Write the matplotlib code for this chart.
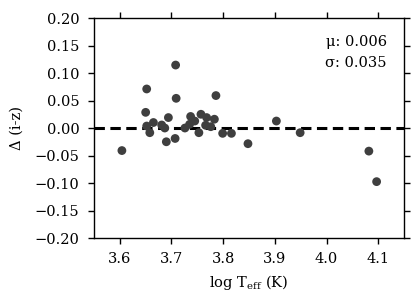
import matplotlib
matplotlib.use("Agg")
import matplotlib.pyplot as plt
from matplotlib.ticker import FuncFormatter

# data
log_teff = [3.604, 3.652, 3.650, 3.652, 3.658, 3.665, 3.681, 3.687, 3.690,
            3.694, 3.707, 3.709, 3.708, 3.726, 3.735, 3.737, 3.745, 3.753,
            3.757, 3.766, 3.768, 3.776, 3.783, 3.786, 3.799, 3.816, 3.848,
            3.903, 3.949, 4.082, 4.097]
delta_iz = [-0.041, 0.071, 0.0285, 0.0036, -0.0085, 0.010, 0.0055, 0.0, -0.025,
            0.019, -0.019, 0.054, 0.1145, 0.0, 0.0067, 0.021, 0.0127, -0.0085,
            0.025, 0.005, 0.019, 0.0024, 0.016, 0.059, -0.0097, -0.0097, -0.0285,
            0.0127, -0.0085, -0.042, -0.0975]
x_ticks = [3.6, 3.7, 3.8, 3.9, 4.0, 4.1]
y_ticks = [-0.2, -0.15, -0.1, -0.05, 0.0, 0.05, 0.1, 0.15, 0.2]
mu_txt = "\u03bc: 0.006"
sigma_txt = "\u03c3: 0.035"

plt.rcParams['font.family'] = ['DejaVu Serif']
plt.rcParams['mathtext.fontset'] = 'dejavuserif'
plt.rcParams['font.size'] = 10.5

fig = plt.figure(figsize=(4.15, 3.03), dpi=100)
ax = fig.add_axes([0.2265, 0.2145, 0.747, 0.726])

ax.scatter(log_teff, delta_iz, s=40, color='#3f3f3f', edgecolors='none', zorder=3)
ax.axhline(0.0, color='k', ls='--', lw=2.2, dashes=(3.4, 1.8), zorder=2)

ax.set_xlim(3.55, 4.15)
ax.set_ylim(-0.2, 0.2)
ax.set_xticks(x_ticks)
ax.set_yticks(y_ticks)
ax.yaxis.set_major_formatter(FuncFormatter(lambda v, p: ("%.2f" % v).replace('-', '\u2212')))
ax.tick_params(direction='out', top=True, right=True, length=4, width=1)
ax.tick_params(axis='x', pad=6)
ax.tick_params(axis='y', pad=6.5)
for sp in ax.spines.values():
    sp.set_linewidth(1)

ax.set_xlabel(r"log T$_{\mathrm{eff}}$ (K)", labelpad=5)
ax.set_ylabel("\u0394 (i-z)", labelpad=8)

ax.text(0.945, 0.892, mu_txt, transform=ax.transAxes, ha='right', va='center')
ax.text(0.945, 0.795, sigma_txt, transform=ax.transAxes, ha='right', va='center')

fig.savefig("out.png", dpi=100)
